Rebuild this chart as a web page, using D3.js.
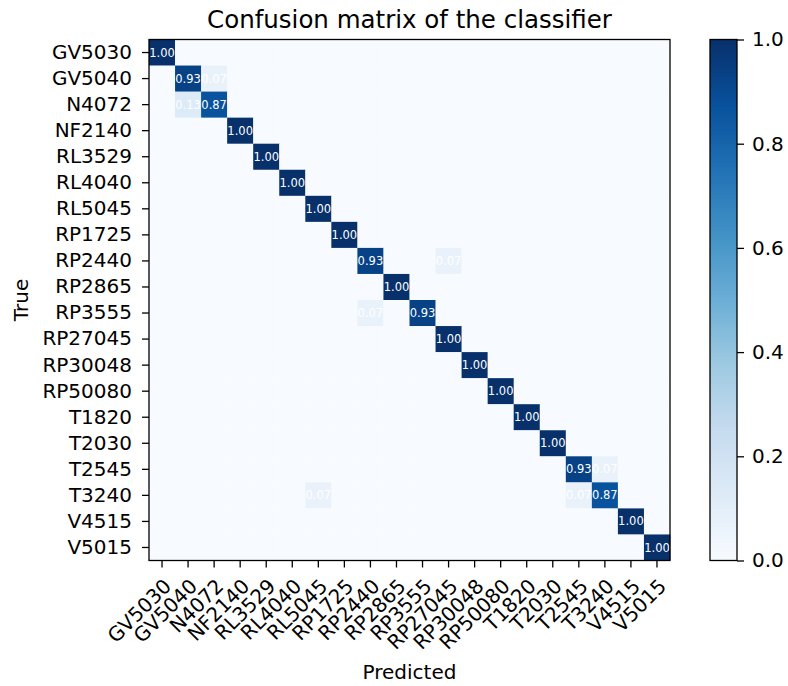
<!DOCTYPE html>
<html>
<head>
<meta charset="utf-8">
<script src="https://cdn.jsdelivr.net/npm/d3@7"></script>
<style>
  body { margin: 0; background: #fff; }
  text { font-family: "DejaVu Sans", sans-serif; fill: #000; }
</style>
</head>
<body>
<div id="chart"></div>
<script>
// class labels, same order on both axes
var classes = ["GV5030", "GV5040", "N4072", "NF2140", "RL3529", "RL4040", "RL5045",
  "RP1725", "RP2440", "RP2865", "RP3555", "RP27045", "RP30048", "RP50080",
  "T1820", "T2030", "T2545", "T3240", "V4515", "V5015"];

// non-zero cells of the normalized matrix: [true row, predicted col, value]
var cells = [
  [0, 0, 1.00],
  [1, 1, 0.93], [1, 2, 0.07],
  [2, 1, 0.13], [2, 2, 0.87],
  [3, 3, 1.00],
  [4, 4, 1.00],
  [5, 5, 1.00],
  [6, 6, 1.00],
  [7, 7, 1.00],
  [8, 8, 0.93], [8, 11, 0.07],
  [9, 9, 1.00],
  [10, 8, 0.07], [10, 10, 0.93],
  [11, 11, 1.00],
  [12, 12, 1.00],
  [13, 13, 1.00],
  [14, 14, 1.00],
  [15, 15, 1.00],
  [16, 16, 0.93], [16, 17, 0.07],
  [17, 6, 0.07], [17, 16, 0.07], [17, 17, 0.87],
  [18, 18, 1.00],
  [19, 19, 1.00]
];

var colorbarTicks = [0.0, 0.2, 0.4, 0.6, 0.8, 1.0];

// matplotlib "Blues" anchors
var blues = ["#f7fbff", "#deebf7", "#c6dbef", "#9ecae1", "#6baed6",
  "#4292c6", "#2171b5", "#08519c", "#08306b"];

var width = 788, height = 686;
var margin = { left: 149, top: 39.5 };
var size = 521;
var tickFont = "20px";

// build the full matrix from the cell list
var matrix = [];
classes.forEach(function(r, i) {
  classes.forEach(function(c, j) {
    matrix.push({ row: r, col: c, value: 0 });
  });
});
cells.forEach(function(c) {
  matrix[c[0] * classes.length + c[1]].value = c[2];
});

var svg = d3.select("#chart").append("svg")
  .attr("width", width)
  .attr("height", height);

var x = d3.scaleBand().domain(classes).range([0, size]);
var y = d3.scaleBand().domain(classes).range([0, size]);
var color = d3.scaleLinear()
  .domain(d3.range(blues.length).map(function(i) { return i / (blues.length - 1); }))
  .range(blues);

var g = svg.append("g")
  .attr("transform", "translate(" + margin.left + "," + margin.top + ")");

g.selectAll("rect.cell")
  .data(matrix)
  .enter().append("rect")
  .attr("class", "cell")
  .attr("x", function(d) { return x(d.col); })
  .attr("y", function(d) { return y(d.row); })
  .attr("width", x.bandwidth() + 0.3)
  .attr("height", y.bandwidth() + 0.3)
  .attr("fill", function(d) { return color(d.value); });

g.selectAll("text.val")
  .data(matrix.filter(function(d) { return d.value > 0; }))
  .enter().append("text")
  .attr("class", "val")
  .attr("x", function(d) { return x(d.col) + x.bandwidth() / 2; })
  .attr("y", function(d) { return y(d.row) + y.bandwidth() / 2; })
  .attr("text-anchor", "middle")
  .attr("dy", "0.35em")
  .style("font-size", "11.5px")
  .style("fill", "#fff")
  .text(function(d) { return d.value.toFixed(2); });

// axes
var xAxis = g.append("g")
  .attr("transform", "translate(0," + size + ")")
  .call(d3.axisBottom(x).tickSize(7).tickPadding(9));
// rotated labels: end of the baseline sits right of and below the tick
xAxis.selectAll("text")
  .style("font-size", tickFont)
  .attr("text-anchor", "end")
  .attr("x", 0)
  .attr("y", 0)
  .attr("dy", 0)
  .attr("transform", "translate(10.5,27) rotate(-45)");

var yAxis = g.append("g")
  .call(d3.axisLeft(y).tickSize(7).tickPadding(10));
yAxis.selectAll("text").style("font-size", tickFont);

[xAxis, yAxis].forEach(function(a) {
  a.select(".domain").remove();
  a.selectAll("line").attr("stroke", "#000").attr("stroke-width", 1.3);
});

g.append("rect")
  .attr("width", size)
  .attr("height", size)
  .attr("fill", "none")
  .attr("stroke", "#000")
  .attr("stroke-width", 1.3);

// title and axis labels
svg.append("text")
  .attr("x", margin.left + size / 2)
  .attr("y", 28)
  .attr("text-anchor", "middle")
  .style("font-size", "24.5px")
  .text("Confusion matrix of the classifier");

svg.append("text")
  .attr("transform", "translate(27.5," + (margin.top + size / 2) + ") rotate(-90)")
  .attr("text-anchor", "middle")
  .style("font-size", tickFont)
  .text("True");

svg.append("text")
  .attr("x", margin.left + size / 2)
  .attr("y", 679)
  .attr("text-anchor", "middle")
  .style("font-size", tickFont)
  .text("Predicted");

// colorbar
var cbX = 710, cbW = 27;
var defs = svg.append("defs");
var grad = defs.append("linearGradient")
  .attr("id", "blues")
  .attr("x1", 0).attr("y1", 1).attr("x2", 0).attr("y2", 0);
grad.selectAll("stop")
  .data(blues)
  .enter().append("stop")
  .attr("offset", function(d, i) { return i / (blues.length - 1); })
  .attr("stop-color", function(d) { return d; });

var cbScale = d3.scaleLinear().domain([0, 1]).range([margin.top + size, margin.top]);

svg.append("rect")
  .attr("x", cbX)
  .attr("y", margin.top)
  .attr("width", cbW)
  .attr("height", size)
  .attr("fill", "url(#blues)")
  .attr("stroke", "#000")
  .attr("stroke-width", 1.3);

var cbAxis = svg.append("g")
  .attr("transform", "translate(" + (cbX + cbW) + ",0)")
  .call(d3.axisRight(cbScale).tickValues(colorbarTicks).tickSize(7).tickPadding(8)
    .tickFormat(d3.format(".1f")));
cbAxis.select(".domain").remove();
cbAxis.selectAll("line").attr("stroke", "#000").attr("stroke-width", 1.3);
cbAxis.selectAll("text").style("font-size", tickFont);
</script>
</body>
</html>
